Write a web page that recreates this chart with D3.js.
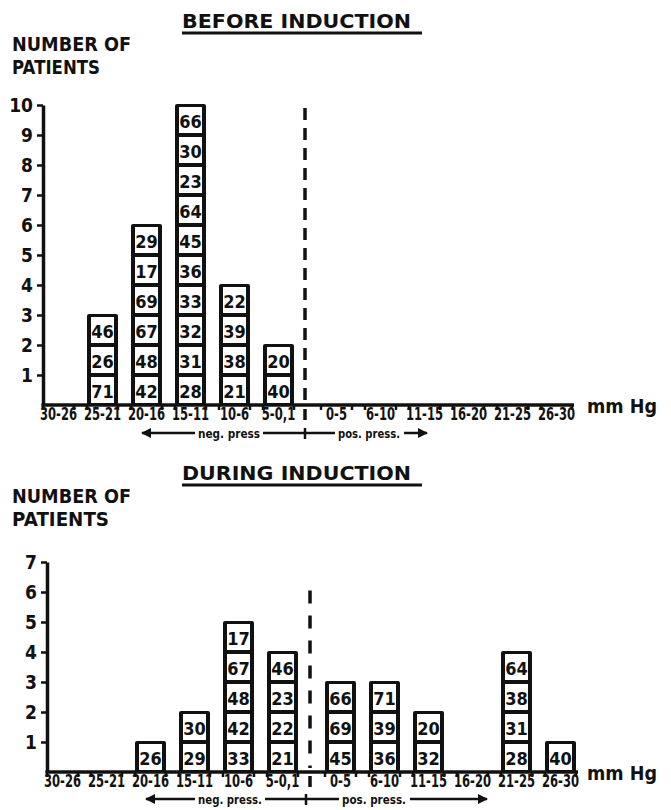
<!DOCTYPE html>
<html lang="en">
  <head>
    <meta charset="utf-8">
    <title>Number of patients before / during induction</title>
    <script src="https://d3js.org/d3.v7.min.js"></script>
    <style>
      body { margin: 0; background: #fff; }
      svg text { fill: #111; }
      .num { font-family: 'DejaVu Sans Condensed', 'DejaVu Sans', sans-serif; font-weight: bold; }
      .lbl { font-family: 'DejaVu Sans', sans-serif; font-weight: bold; }
    </style>
  </head>
  <body>
    <div id="chart"></div>
    <script>
      // categories (mm Hg)
      const negCategories = ['30-26', '25-21', '20-16', '15-11', '10-6', '5-0,1']
      const posCategories = ['0-5', '6-10', '11-15', '16-20', '21-25', '26-30']

      // patient numbers stacked in each class, bottom to top
      const beforeCases = [
        [], [71, 26, 46], [42, 48, 67, 69, 17, 29],
        [28, 31, 32, 33, 36, 45, 64, 23, 30, 66], [21, 38, 39, 22], [40, 20],
        [], [], [], [], [], []
      ]
      const duringCases = [
        [], [], [26], [29, 30], [33, 42, 48, 67, 17], [21, 22, 23, 46],
        [45, 69, 66], [36, 39, 71], [32, 20], [], [28, 31, 38, 64], [40]
      ]

      const beforeTicks = [1, 2, 3, 4, 5, 6, 7, 8, 9, 10]
      const duringTicks = [1, 2, 3, 4, 5, 6, 7]

      const largura = 671, altura = 810
      const unidade = 30

      const svg = d3.select('#chart')
        .append('svg')
          .attr('width', largura)
          .attr('height', altura)

      svg.append('rect').attr('width', largura).attr('height', altura).attr('fill', '#fff')

      const defs = svg.append('defs')
      defs.append('marker')
          .attr('id', 'seta')
          .attr('viewBox', '0 0 10 10')
          .attr('refX', 9).attr('refY', 5)
          .attr('markerWidth', 4).attr('markerHeight', 4)
          .attr('orient', 'auto-start-reverse')
        .append('path')
          .attr('d', 'M0,0 L10,5 L0,10 Z')
          .attr('fill', '#111')

      function painel(p) {
        const g = svg.append('g')
        const allCats = negCategories.concat(posCategories)

        const y = d3.scaleLinear()
          .domain([0, p.yMax])
          .range([p.base, p.base - p.yMax * unidade])

        const xNeg = d3.scaleBand()
          .domain(negCategories)
          .range([p.x0, p.x0 + 251])
          .paddingInner(13 / 44)
          .paddingOuter(0)
        const xPos = d3.scaleBand()
          .domain(posCategories)
          .range([p.x0 + 278, p.x0 + 529])
          .paddingInner(13 / 44)
          .paddingOuter(0)
        const x = c => negCategories.includes(c) ? xNeg(c) : xPos(c)
        const bw = xNeg.bandwidth()
        const divisor = p.x0 + p.div

        // title
        g.append('text')
          .attr('class', 'lbl')
          .attr('x', 182).attr('y', p.titleY)
          .attr('font-size', 19)
          .attr('textLength', 229)
          .attr('lengthAdjust', 'spacingAndGlyphs')
          .text(p.title)
        g.append('line')
          .attr('x1', 182).attr('x2', 422)
          .attr('y1', p.titleY + 5).attr('y2', p.titleY + 5)
          .attr('stroke', '#111').attr('stroke-width', 3)

        // y label
        g.append('text').attr('class', 'lbl')
          .attr('x', 12).attr('y', p.titleY + 23)
          .attr('font-size', 19)
          .attr('textLength', 119).attr('lengthAdjust', 'spacingAndGlyphs')
          .text('NUMBER OF')
        g.append('text').attr('class', 'lbl')
          .attr('x', 12).attr('y', p.titleY + 46)
          .attr('font-size', 19)
          .attr('textLength', p.patW).attr('lengthAdjust', 'spacingAndGlyphs')
          .text('PATIENTS')

        // bars
        const barras = g.selectAll('.barra')
          .data(allCats.map((c, i) => ({ cat: c, cases: p.cases[i] })).filter(d => d.cases.length))
          .join('g')
            .attr('class', 'barra')

        barras.append('rect')
          .attr('x', d => x(d.cat))
          .attr('y', d => y(d.cases.length) - 1)
          .attr('width', bw)
          .attr('height', d => y(0) - y(d.cases.length) + 1)
          .attr('rx', 2)
          .attr('fill', '#111')

        const celas = barras.selectAll('.cela')
          .data(d => d.cases.map((v, j) => ({ cat: d.cat, v: v, j: j })))
          .join('g')
            .attr('class', 'cela')

        celas.append('rect')
          .attr('x', d => x(d.cat) + 4)
          .attr('y', d => y(d.j + 1) + 2)
          .attr('width', bw - 8)
          .attr('height', unidade - 4)
          .attr('fill', '#fff')

        celas.append('text')
          .attr('class', 'num')
          .attr('x', d => x(d.cat) + bw / 2)
          .attr('y', d => y(d.j + 0.5) + 1)
          .attr('text-anchor', 'middle')
          .attr('dominant-baseline', 'central')
          .attr('font-size', 18)
          .text(d => d.v)

        // dashed divider
        g.append('line')
          .attr('x1', divisor).attr('x2', divisor)
          .attr('y1', y(p.dashTop)).attr('y2', y(0) - 4)
          .attr('stroke', '#111').attr('stroke-width', 3.5)
          .attr('stroke-dasharray', p.dash)
        g.append('line')
          .attr('x1', divisor).attr('x2', divisor)
          .attr('y1', y(0) + 4).attr('y2', y(0) + 15)
          .attr('stroke', '#111').attr('stroke-width', 3.5)

        // y axis
        const eixoY = g.append('g')
          .attr('transform', `translate(${p.x0}, 0)`)
          .call(d3.axisLeft(y)
            .tickValues(p.ticks)
            .tickFormat(d3.format('d'))
            .tickSize(6).tickSizeOuter(0).tickPadding(4))
        eixoY.select('.domain').attr('stroke', '#111').attr('stroke-width', 3.5)
        eixoY.selectAll('.tick line').attr('stroke', '#111').attr('stroke-width', 2.5)
        eixoY.selectAll('.tick text')
          .attr('class', 'num')
          .attr('font-size', 19)
          .attr('fill', '#111')

        // x axis line
        g.append('line')
          .attr('x1', p.x0 - 1.5).attr('x2', p.x0 + 531)
          .attr('y1', y(0)).attr('y2', y(0))
          .attr('stroke', '#111').attr('stroke-width', 3.5)

        // small ticks at class edges
        const bordas = []
        allCats.forEach(c => { bordas.push(x(c)); bordas.push(x(c) + bw) })
        g.selectAll('.borda')
          .data(bordas)
          .join('line')
            .attr('x1', d => d).attr('x2', d => d)
            .attr('y1', y(0)).attr('y2', y(0) + 5)
            .attr('stroke', '#111').attr('stroke-width', 2.5)

        // class labels
        ;[xNeg, xPos].forEach(esc => {
          const eixo = g.append('g')
            .attr('transform', `translate(0, ${y(0)})`)
            .call(d3.axisBottom(esc).tickSize(0).tickPadding(0))
          eixo.select('.domain').remove()
          eixo.selectAll('.tick text')
            .attr('class', 'num')
            .attr('font-size', 14)
            .attr('fill', '#111')
            .attr('dy', null)
            .attr('y', 0)
            .attr('transform', 'translate(0,14.5) scale(0.92,1.2)')
        })

        // mm Hg
        g.append('text').attr('class', 'lbl')
          .attr('x', 587).attr('y', y(0) + 8)
          .attr('font-size', 20)
          .attr('textLength', 70).attr('lengthAdjust', 'spacingAndGlyphs')
          .text('mm Hg')

        // neg. / pos. pressure arrows
        const ya = y(0) + p.arrowDy
        const a = p.arrow
        g.append('line')
          .attr('x1', a.negText - 3).attr('x2', a.left)
          .attr('y1', ya).attr('y2', ya)
          .attr('stroke', '#111').attr('stroke-width', 2.5)
          .attr('marker-end', 'url(#seta)')
        g.append('text').attr('class', 'num')
          .attr('x', a.negText).attr('y', ya + 4.5)
          .attr('font-size', 13)
          .attr('textLength', a.negW).attr('lengthAdjust', 'spacingAndGlyphs')
          .text(a.negLabel)
        g.append('line')
          .attr('x1', a.negText + a.negW + 3).attr('x2', a.posText - 3)
          .attr('y1', ya).attr('y2', ya)
          .attr('stroke', '#111').attr('stroke-width', 2.5)
        g.append('line')
          .attr('x1', a.cross).attr('x2', a.cross)
          .attr('y1', ya - 5).attr('y2', ya + 6)
          .attr('stroke', '#111').attr('stroke-width', 2.5)
        g.append('text').attr('class', 'num')
          .attr('x', a.posText).attr('y', ya + 4.5)
          .attr('font-size', 13)
          .attr('textLength', a.posW).attr('lengthAdjust', 'spacingAndGlyphs')
          .text('pos. press.')
        g.append('line')
          .attr('x1', a.posText + a.posW + 4).attr('x2', a.right)
          .attr('y1', ya).attr('y2', ya)
          .attr('stroke', '#111').attr('stroke-width', 2.5)
          .attr('marker-end', 'url(#seta)')
      }

      painel({
        title: 'BEFORE INDUCTION',
        titleY: 28,
        patW: 88,
        cases: beforeCases,
        ticks: beforeTicks,
        yMax: 10,
        base: 405,
        x0: 43,
        div: 262,
        dashTop: 9.9,
        dash: '12,8',
        arrowDy: 28,
        arrow: { left: 142, negText: 198, negW: 62, negLabel: 'neg. press', cross: 305, posText: 338, posW: 62, right: 427 }
      })

      painel({
        title: 'DURING INDUCTION',
        titleY: 480,
        patW: 97,
        cases: duringCases,
        ticks: duringTicks,
        yMax: 7,
        base: 772,
        x0: 47,
        div: 263,
        dashTop: 6.05,
        dash: '13,12',
        arrowDy: 27,
        arrow: { left: 146, negText: 198, negW: 64, negLabel: 'neg. press.', cross: 306, posText: 342, posW: 64, right: 487 }
      })
    </script>
  </body>
</html>
